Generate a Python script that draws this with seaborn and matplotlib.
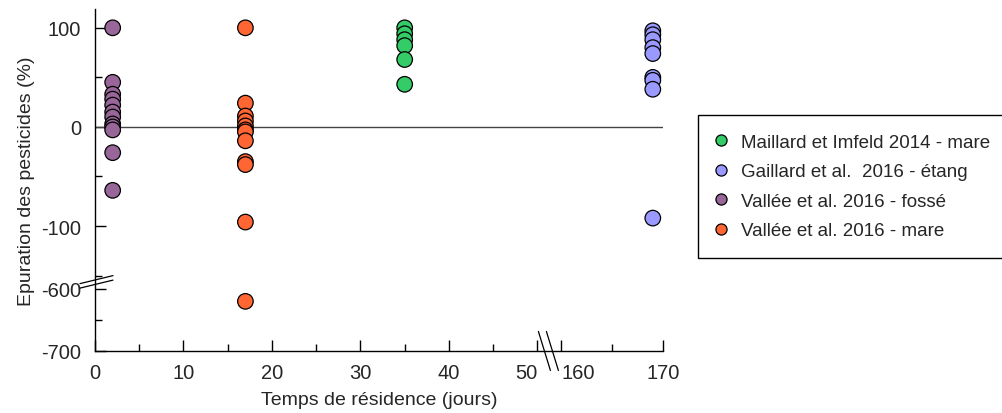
import numpy as np
import pandas as pd
import matplotlib
matplotlib.use('Agg')
import matplotlib.pyplot as plt
import seaborn as sns

# Data
studies = ['Maillard et Imfeld 2014 - mare', 'Gaillard et al.  2016 - étang',
           'Vallée et al. 2016 - fossé', 'Vallée et al. 2016 - mare']
colors = ['#33CC66', '#9999FF', '#996699', '#FF6633']

maillard_x = 35
maillard_y = [100, 94, 88, 82, 68, 43]
gaillard_x = 169
gaillard_y = [97, 93, 88, 80, 74, 50, 47, 38, -92]
fosse_x = 2
fosse_y = [100, 45, 33, 28, 22, 15, 10, 3, 0, -3, -26, -64]
vmare_x = 17
vmare_y = [100, 24, 11, 6, 1, -3, -5, -14, -35, -38, -96, -620]

rows = []
for name, x, ys in zip(studies, [maillard_x, gaillard_x, fosse_x, vmare_x],
                       [maillard_y, gaillard_y, fosse_y, vmare_y]):
    for y in ys:
        rows.append({'x': x, 'y': y, 'study': name})
df = pd.DataFrame(rows)

# broken axes as piecewise linear scales
Y_UP_BOT, Y_LO_TOP, RY = -156.6, -589.0, 0.626
X_LO_END, X_HI_START, RX = 51.3, 158.8, 1.151


def yfwd(y):
    y = np.asarray(y, dtype=float)
    low = Y_UP_BOT - (Y_LO_TOP - y) * RY
    return np.where(y >= Y_UP_BOT, y, np.where(y <= Y_LO_TOP, low, Y_UP_BOT))


def yinv(z):
    z = np.asarray(z, dtype=float)
    return np.where(z >= Y_UP_BOT, z, Y_LO_TOP - (Y_UP_BOT - z) / RY)


def xfwd(x):
    x = np.asarray(x, dtype=float)
    high = X_LO_END + (x - X_HI_START) * RX
    return np.where(x <= X_LO_END, x, np.where(x >= X_HI_START, high, X_LO_END))


def xinv(z):
    z = np.asarray(z, dtype=float)
    return np.where(z <= X_LO_END, z, X_HI_START + (z - X_LO_END) / RX)


sns.set_style('ticks')
plt.rcParams['font.family'] = ['Liberation Sans', 'DejaVu Sans']

fig = plt.figure(figsize=(10.03, 4.14), dpi=100)
ax = fig.add_axes([0.0947, 0.1498, 0.5663, 0.8261])

ax.set_xscale('function', functions=(xfwd, xinv))
ax.set_yscale('function', functions=(yfwd, yinv))

ax.axhline(0, color='#444444', lw=1, zorder=1)

sns.scatterplot(data=df, x='x', y='y', hue='study', hue_order=studies,
                palette=colors, s=125, edgecolor='black', linewidth=0.9,
                alpha=1, ax=ax, zorder=3, clip_on=False)

ax.set_xlim(0, 170)
ax.set_ylim(-700, 119)
ax.set_xticks([0, 10, 20, 30, 40, 50, 160, 170])
ax.set_xticklabels(['0', '10', '20', '30', '40', '50', '160', '170'])
ax.set_xticks([5, 15, 25, 35, 45, 165], minor=True)
ax.set_yticks([100, 0, -100, -600, -700])
ax.set_yticklabels(['100', '0', '-100', '-600', '-700'])
ax.set_yticks([50, -50, -150, -650], minor=True)
ax.tick_params(which='both', direction='in', labelsize=14.5, color='black', width=1)
ax.tick_params(which='major', length=8)
ax.tick_params(which='minor', length=5)
ax.tick_params(axis='y', pad=10)
ax.tick_params(axis='x', pad=9)
xt = ax.get_xticklabels()
xt[5].set_ha('right')
xt[6].set_ha('left')
for s in ['top', 'right']:
    ax.spines[s].set_visible(False)
for s in ['left', 'bottom']:
    ax.spines[s].set_color('black')
    ax.spines[s].set_linewidth(1)

ax.set_xlabel('Temps de résidence (jours)', fontsize=14, labelpad=6)
ax.set_ylabel('Epuration des pesticides (%)', fontsize=14, labelpad=4)

# break marks
w_px, h_px = 568.0, 342.0
ytot = yfwd(119) - yfwd(-700)
by = float((yfwd(Y_UP_BOT) - yfwd(-700)) / ytot)
for off in (-2.0, 2.5):
    ax.plot([-15 / w_px, 18 / w_px],
            [by + (off - 4) / h_px, by + (off + 4) / h_px],
            transform=ax.transAxes, color='black', lw=0.9, clip_on=False)
xtot = xfwd(170) - xfwd(0)
bx = float((xfwd(X_LO_END) - xfwd(0)) / xtot)
for off in (-4.5, 3.5):
    ax.plot([bx + (off - 6) / w_px, bx + (off + 6) / w_px],
            [19.5 / h_px, -19.5 / h_px],
            transform=ax.transAxes, color='black', lw=0.9, clip_on=False)

handles, labels = ax.get_legend_handles_labels()
ax.get_legend().remove()
for h in handles:
    h.set_markersize(8)
    h.set_markeredgecolor('black')
    h.set_markeredgewidth(0.9)
leg = fig.legend(handles, labels, loc='upper left',
                 bbox_to_anchor=(698 / 1003, 1 - 116 / 414),
                 frameon=True, fancybox=False, edgecolor='black',
                 framealpha=1, borderaxespad=0, fontsize=13.5,
                 borderpad=1.0, handlelength=0.45, handletextpad=0.85,
                 labelspacing=0.66)
leg.get_frame().set_linewidth(1)

fig.savefig('out.png', dpi=100)
